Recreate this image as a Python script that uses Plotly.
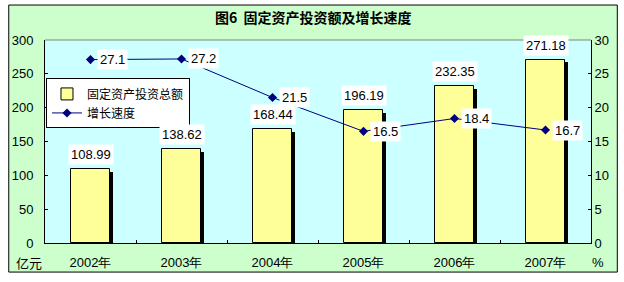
import plotly.graph_objects as go

years = ["2002年", "2003年", "2004年", "2005年", "2006年", "2007年"]
invest = [108.99, 138.62, 168.44, 196.19, 232.35, 271.18]
growth = [27.1, 27.2, 21.5, 16.5, 18.4, 16.7]
left_ticks = [0, 50, 100, 150, 200, 250, 300]
right_ticks = [0, 5, 10, 15, 20, 25, 30]

W, H = 624, 282
ML, MR, MT, MB = 41, 33, 40, 36
PW, PH = W - ML - MR, H - MT - MB

NUM_FONT = "Liberation Sans, Arial, sans-serif"
CJK_FONT = "Noto Sans CJK SC, sans-serif"

bar_w = 0.42
shadow_dx = 3 / (PW / len(years))
shadow_dy = 3 * 300 / PH

fig = go.Figure()
fig.add_trace(go.Bar(
    x=years, y=invest, base=-shadow_dy, width=bar_w, offset=-bar_w / 2 + shadow_dx,
    marker=dict(color="black", line=dict(width=0)), showlegend=False, hoverinfo="skip",
))
fig.add_trace(go.Bar(
    x=years, y=invest, width=bar_w, offset=-bar_w / 2, name="固定资产投资总额",
    marker=dict(color="#FFFF99", line=dict(color="black", width=1)),
))
fig.add_trace(go.Scatter(
    x=years, y=growth, yaxis="y2", mode="lines+markers", name="增长速度",
    line=dict(color="#000080", width=1),
    marker=dict(symbol="diamond", size=7, color="#000080"),
))

annotations = []
for yr, v in zip(years, invest):
    annotations.append(dict(
        x=yr, y=v, xref="x", yref="y", text=f"{v:.2f}", showarrow=False,
        xanchor="center", yanchor="bottom", yshift=4, bgcolor="white", borderpad=2,
        font=dict(family=NUM_FONT, size=13, color="black"),
    ))
for yr, g in zip(years, growth):
    annotations.append(dict(
        x=yr, y=g, xref="x", yref="y2", text=f"{g:.1f}", showarrow=False,
        xanchor="left", yanchor="middle", xshift=6, bgcolor="white", borderpad=2,
        font=dict(family=NUM_FONT, size=13, color="black"),
    ))

def px_x(p):
    return (p - ML) / PW

def px_y(p):
    return (H - MB - p) / PH

annotations += [
    dict(x=px_x(25), y=px_y(266), xref="paper", yref="paper", text="亿元", showarrow=False,
         xanchor="center", yanchor="middle",
         font=dict(family=CJK_FONT, size=13, color="black")),
    dict(x=px_x(598), y=px_y(266), xref="paper", yref="paper", text="%", showarrow=False,
         xanchor="center", yanchor="middle",
         font=dict(family=NUM_FONT, size=13, color="black")),
    dict(x=px_x(311), y=px_y(17), xref="paper", yref="paper", text="<b>图6  固定资产投资额及增长速度</b>",
         xanchor="center", yanchor="middle",
         showarrow=False, font=dict(family=CJK_FONT, size=14, color="black")),
]

shapes = [
    dict(type="rect", xref="paper", yref="paper", x0=px_x(4.5), x1=px_x(617.5), y0=px_y(4.5), y1=px_y(275.5),
         line=dict(color="black", width=1), fillcolor="#CCFFCC", layer="below"),
    dict(type="rect", xref="paper", yref="paper", x0=0, x1=1, y0=0, y1=1,
         line=dict(width=0), fillcolor="#CCFFFF", layer="below"),
    dict(type="line", xref="paper", yref="paper", x0=0, x1=1, y0=1, y1=1,
         line=dict(color="#808080", width=1)),
]

fig.update_layout(
    width=W, height=H,
    margin=dict(l=ML, r=MR, t=MT, b=MB, pad=0),
    paper_bgcolor="white", plot_bgcolor="rgba(0,0,0,0)",
    barmode="overlay", bargap=0,
    font=dict(family=NUM_FONT, size=13, color="black"),
    showlegend=True,
    legend=dict(x=px_x(42), y=px_y(79), xanchor="left", yanchor="top",
                bgcolor="white", bordercolor="black", borderwidth=1,
                font=dict(family=CJK_FONT, size=12), tracegroupgap=0,
                itemwidth=30),
    xaxis=dict(type="category", showline=True, linecolor="black", linewidth=1,
               ticks="inside", ticklen=3, tickcolor="black", tickson="boundaries",
               ticklabelstandoff=7,
               showgrid=False, tickfont=dict(family=NUM_FONT, size=13), mirror=False),
    yaxis=dict(range=[0, 300], tickvals=left_ticks, showline=True, linecolor="black",
               ticks="inside", ticklen=3, tickcolor="black", showgrid=False, zeroline=False,
               ticklabelstandoff=8, tickfont=dict(family=NUM_FONT, size=13)),
    yaxis2=dict(range=[0, 30], tickvals=right_ticks, overlaying="y", side="right",
                showline=True, linecolor="black", ticks="inside", ticklen=3, tickcolor="black",
                showgrid=False, zeroline=False, tickfont=dict(family=NUM_FONT, size=13)),
    annotations=annotations, shapes=shapes,
)

fig.write_html("out.html")
